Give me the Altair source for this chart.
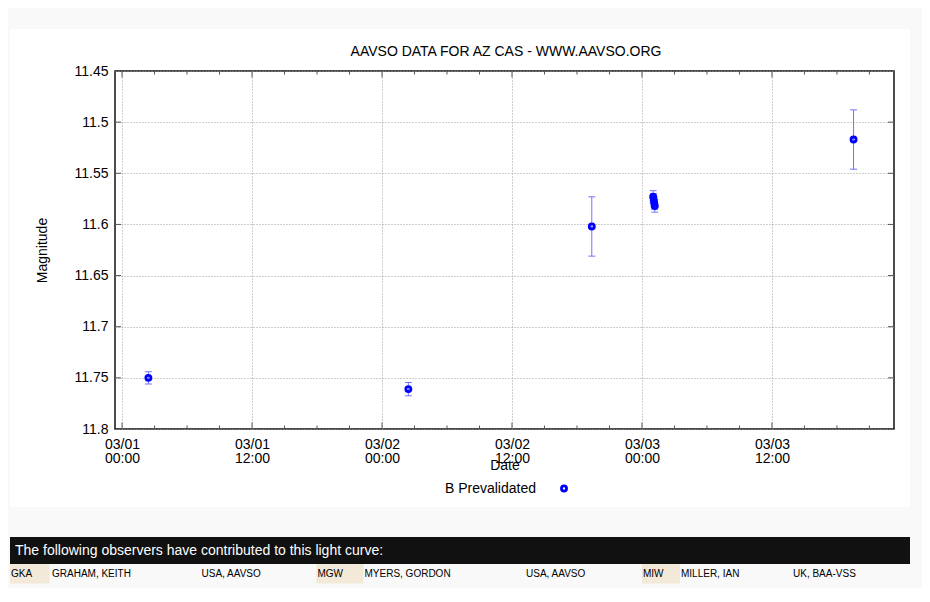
import altair as alt
import pandas as pd

# ---------------- data ----------------
obs_time = [
    "2023-03-01T02:26:00",
    "2023-03-02T02:26:00",
    "2023-03-02T19:22:00",
    "2023-03-03T01:02:00",
    "2023-03-03T01:05:00",
    "2023-03-03T01:08:00",
    "2023-03-03T01:11:00",
    "2023-03-03T19:32:00",
]
obs_mag = [11.750, 11.761, 11.602, 11.573, 11.576, 11.579, 11.582, 11.517]
obs_err = [0.006, 0.0065, 0.029, 0.006, 0.006, 0.006, 0.006, 0.029]
series_name = "B Prevalidated"

chart_title = "AAVSO DATA FOR AZ CAS - WWW.AAVSO.ORG"
x_title = "Date"
y_title = "Magnitude"

x_domain = ["2023-02-28T23:21:00", "2023-03-03T23:16:00"]
y_domain = [11.45, 11.8]
y_tick_values = [11.45, 11.5, 11.55, 11.6, 11.65, 11.7, 11.75, 11.8]
x_major_ticks = [
    "2023-03-01T00:00:00", "2023-03-01T12:00:00", "2023-03-02T00:00:00",
    "2023-03-02T12:00:00", "2023-03-03T00:00:00", "2023-03-03T12:00:00",
]

footer_heading = "The following observers have contributed to this light curve:"
obs_codes = ["GKA", "MGW", "MIW"]
obs_names = ["GRAHAM, KEITH", "MYERS, GORDON", "MILLER, IAN"]
obs_affils = ["USA, AAVSO", "USA, AAVSO", "UK, BAA-VSS"]

# ---------------- layout ----------------
W, H = 779, 358
OX, OY = 115, 71          # plot-area origin on the page
PAD_L, PAD_T = OX - 8, OY - 8
PAD_R = 914 - PAD_L - W
PAD_B = 580 - PAD_T - H
FONT = "Liberation Sans"
GRIDC = "#9c9c9c"


def rx(px):
    return px - OX


def ry(py):
    return py - OY


def dt(s):
    t = pd.Timestamp(s)
    return alt.DateTime(year=t.year, month=t.month, date=t.day,
                        hours=t.hour, minutes=t.minute)


xscale = alt.Scale(domain=[dt(x_domain[0]), dt(x_domain[1])], nice=False)
yscale = alt.Scale(domain=y_domain, reverse=True, zero=False, nice=False)

obs = pd.DataFrame({"t": pd.to_datetime(obs_time), "mag": obs_mag, "err": obs_err})
obs["lo"] = obs["mag"] - obs["err"]
obs["hi"] = obs["mag"] + obs["err"]
caps = pd.concat([obs[["t"]].assign(v=obs["lo"]), obs[["t"]].assign(v=obs["hi"])])

minor = [t for t in pd.date_range("2023-03-01 00:00", "2023-03-03 21:00", freq="3h")
         if t.hour % 12 != 0]
xmaj_df = pd.DataFrame({"t": pd.to_datetime(x_major_ticks)})
xmin_df = pd.DataFrame({"t": minor})
ytk_df = pd.DataFrame({"v": y_tick_values[1:-1]})

x_axis = alt.Axis(
    values=[dt(v) for v in x_major_ticks],
    labelExpr="[timeFormat(datum.value, '%m/%d'), timeFormat(datum.value, '%H:%M')]",
    ticks=False, domain=False, labelPadding=8, labelLineHeight=14.5,
    labelOverlap=False, labelFlush=False,
    titleX=W / 2, titleY=40.5, titleBaseline="alphabetic",
    grid=True, gridColor=GRIDC, gridDash=[1, 2], gridWidth=1,
)
y_axis = alt.Axis(
    values=y_tick_values, format="~g", ticks=False, domain=False,
    labelPadding=7, labelOverlap=False,
    titleX=-69, titleY=H / 2, titleAngle=270, titleBaseline="alphabetic",
    grid=True, gridColor=GRIDC, gridDash=[1, 2], gridWidth=1,
)


def X(field):
    return alt.X(field, type="temporal", scale=xscale, axis=x_axis, title=x_title)


def Y(field):
    return alt.Y(field, type="quantitative", scale=yscale, axis=y_axis, title=y_title)


# ---------------- data marks ----------------
points = alt.Chart(obs).mark_point(
    shape="circle", filled=False, size=26, strokeWidth=2.8, color="#0000ff", opacity=1
).encode(x=X("t"), y=Y("mag"))

ERRC = "#7373ff"
errbars = alt.Chart(obs).mark_rule(color=ERRC, strokeWidth=1).encode(
    x=X("t"), y=Y("lo"), y2="hi:Q",
)
errcaps = alt.Chart(caps).mark_tick(
    orient="horizontal", size=7, thickness=1, color=ERRC, opacity=1
).encode(x=X("t"), y=Y("v"))

# ---------------- frame ticks (inward, mirrored) ----------------
TKC = "#555555"


def xticks(df, y0, y1):
    return alt.Chart(df).mark_rule(color=TKC, strokeWidth=1).encode(
        x=X("t"), y=alt.value(y0), y2=alt.value(y1))


def yticks(x0, x1):
    return alt.Chart(ytk_df).mark_rule(color=TKC, strokeWidth=1).encode(
        y=Y("v"), x=alt.value(x0), x2=alt.value(x1))


frame_ticks = [
    xticks(xmaj_df, H - 6.5, H), xticks(xmaj_df, 0, 6.5),
    xticks(xmin_df, H - 3.5, H), xticks(xmin_df, 0, 3.5),
    yticks(0, 6), yticks(W - 6, W),
]

# ---------------- page decorations (pixel layout) ----------------
GRAY = "#f9f9f9"
box_left = [10, 316.5, 642]
box_right = [49.5, 363.5, 680]
name_x = [52, 364.5, 681]
affil_x = [201.5, 526, 793]

one = pd.DataFrame({"k": [0]})


def rect(x0, x1, y0, y1, fill):
    return alt.Chart(one).mark_rect(fill=fill, opacity=1).encode(
        x=alt.value(x0), x2=alt.value(x1), y=alt.value(y0), y2=alt.value(y1))


def label(txt, x, y, size, color, align="left", baseline="middle"):
    return alt.Chart(pd.DataFrame({"label": [txt]})).mark_text(
        align=align, baseline=baseline, font=FONT, fontSize=size, color=color
    ).encode(x=alt.value(x), y=alt.value(y), text="label:N")


deco = [
    rect(-PAD_L, W + PAD_R, -PAD_T, ry(29), GRAY),
    rect(-PAD_L, rx(10), ry(29), ry(507), GRAY),
    rect(rx(910), W + PAD_R, ry(29), ry(507), GRAY),
    rect(-PAD_L, W + PAD_R, ry(507), H + PAD_B, GRAY),
    rect(rx(10), rx(910), ry(537), ry(564), "#111111"),
]
for bl, br in zip(box_left, box_right):
    deco.append(rect(rx(bl), rx(br), ry(564), ry(583.5), "#f2e9d9"))

texts = [
    label(chart_title, rx(506), ry(55.5), 14, "#000000", "center", "alphabetic"),
    label(series_name, rx(536), ry(492.5), 14, "#000000", "right", "alphabetic"),
    label(footer_heading, rx(15), ry(550.5), 14, "#ffffff"),
]
for i in range(len(obs_codes)):
    texts.append(label(obs_codes[i], rx(box_left[i] + 1), ry(574), 10, "#000000"))
    texts.append(label(obs_names[i], rx(name_x[i]), ry(574), 10, "#000000"))
    texts.append(label(obs_affils[i], rx(affil_x[i]), ry(574), 10, "#000000"))

legend_sym = alt.Chart(pd.DataFrame({"label": [series_name]})).mark_point(
    shape="circle", filled=False, size=26, strokeWidth=2.8, color="#0000ff", opacity=1
).encode(x=alt.value(rx(564)), y=alt.value(ry(488.5)))

chart = alt.layer(
    *deco, errbars, errcaps, points, *frame_ticks, *texts, legend_sym,
).properties(
    width=W, height=H,
    padding={"left": PAD_L, "top": PAD_T, "right": PAD_R, "bottom": PAD_B},
    autosize=alt.AutoSizeParams(type="none"),
    background="#ffffff",
).configure_view(
    stroke="#111111", strokeWidth=1.5, fill="#ffffff"
).configure_axis(
    labelFont=FONT, labelFontSize=14, labelColor="#000000",
    titleFont=FONT, titleFontSize=14, titleFontWeight="normal", titleColor="#000000",
)

chart.save("out.html", embed_options={"renderer": "svg", "actions": False})
